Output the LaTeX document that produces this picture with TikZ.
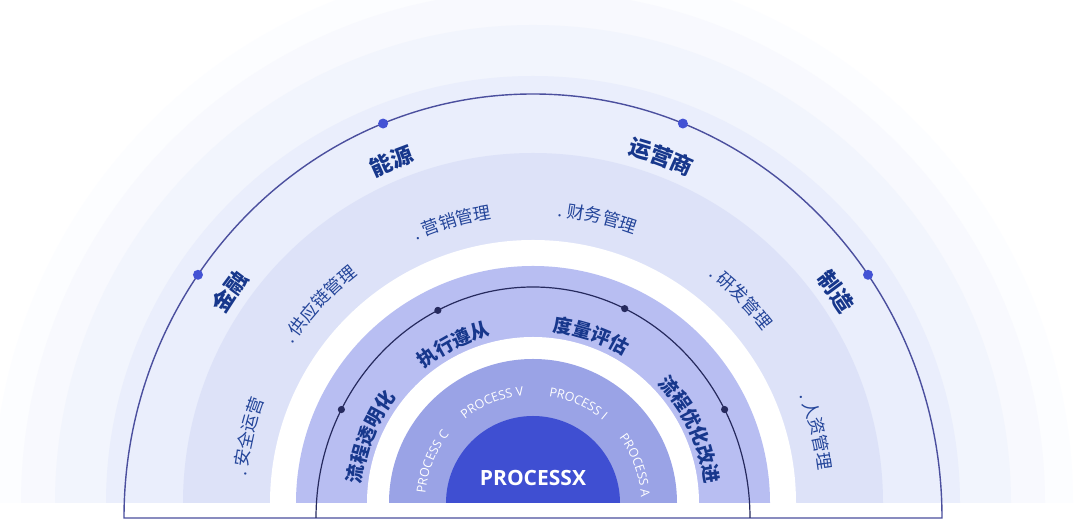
\documentclass[tikz,border=0pt]{standalone}
\usepackage{fontspec}
\setmainfont{Noto Sans CJK SC}
\newfontfamily\latinfont{Open Sans}
\usetikzlibrary{decorations.text}
\definecolor{glowA}{HTML}{FCFDFF}
\definecolor{glowB}{HTML}{F8F9FE}
\definecolor{glowC}{HTML}{F2F5FD}
\definecolor{lightband}{HTML}{EAEEFC}
\definecolor{lavender}{HTML}{DDE2F8}
\definecolor{purpleband}{HTML}{B8BEF2}
\definecolor{midband}{HTML}{9AA3E6}
\definecolor{coreblue}{HTML}{3F4FD2}
\definecolor{navy}{HTML}{17378C}
\definecolor{softnavy}{HTML}{24459A}
\definecolor{outerline}{HTML}{4B4F9E}
\definecolor{innerline}{HTML}{262A5E}
\definecolor{outerdot}{HTML}{4352D4}
\newcommand\halfdisk[2]{\fill[#2] (180:#1pt) arc[start angle=180,end angle=0,radius=#1pt] -- cycle;}
\newcommand\arclab[5]{%
  \path[decorate,decoration={text along path,text align=center,text color=#4,text={|#3|#5}}]
    (#2+60:#1pt) arc[start angle=#2+60,end angle=#2-60,radius=#1pt];}
\begin{document}
\begin{tikzpicture}[x=1pt,y=1pt]
\useasboundingbox (0,0) rectangle (1080,526);
\fill[white] (0,0) rectangle (1080,526);
% bands
\begin{scope}[shift={(533,23)}]
  \halfdisk{540}{glowA}
  \halfdisk{512}{glowB}
  \halfdisk{478}{glowC}
  \halfdisk{427}{lightband}
  \halfdisk{350}{lavender}
  \halfdisk{263}{white}
  \halfdisk{237}{purpleband}
  \halfdisk{166}{white}
  \halfdisk{144}{midband}
  \halfdisk{87}{coreblue}
\end{scope}
% lines
\draw[outerline,line width=1.4pt] (124,8) arc[start angle=180,end angle=0,x radius=409pt,y radius=424pt] -- cycle;
\draw[innerline,line width=1.2pt] (316,8) arc[start angle=180,end angle=0,x radius=217pt,y radius=231pt];
\begin{scope}[shift={(533,8)}]
  \foreach \t/\n in {145/oa,111.5/ob,68.5/oc,35/od}
    \fill[outerdot] (\t:409pt and 424pt) circle[radius=5pt] coordinate (\n);
  \foreach \t/\n in {152/ia,116/ib,65/ic,28/id}
    \fill[innerline] (\t:217pt and 231pt) circle[radius=3.6pt] coordinate (\n);
\end{scope}
% labels
\begin{scope}[shift={(533,23)}]
  \arclab{361.5}{145.1}{\fontsize{22}{22}\selectfont\bfseries}{navy}{金融}
  \arclab{361.5}{112.5}{\fontsize{22}{22}\selectfont\bfseries}{navy}{能源}
  \arclab{361.5}{69.7}{\fontsize{22}{22}\selectfont\bfseries}{navy}{运营商}
  \arclab{361.5}{34.9}{\fontsize{22}{22}\selectfont\bfseries}{navy}{制造}
  \arclab{287.5}{166.9}{\fontsize{17.5}{17.5}\selectfont}{softnavy}{. 安全运营}
  \arclab{287.5}{137}{\fontsize{17.5}{17.5}\selectfont}{softnavy}{. 供应链管理}
  \arclab{287.5}{106}{\fontsize{17.5}{17.5}\selectfont}{softnavy}{. 营销管理}
  \arclab{287.5}{77.2}{\fontsize{17.5}{17.5}\selectfont}{softnavy}{. 财务管理}
  \arclab{287.5}{44.6}{\fontsize{17.5}{17.5}\selectfont}{softnavy}{. 研发管理}
  \arclab{287.5}{14.2}{\fontsize{17.5}{17.5}\selectfont}{softnavy}{. 人资管理}
  \arclab{172.8}{158}{\fontsize{19}{19}\selectfont\bfseries}{navy}{流程透明化}
  \arclab{172.8}{116.6}{\fontsize{19}{19}\selectfont\bfseries}{navy}{执行遵从}
  \arclab{172.8}{71}{\fontsize{19}{19}\selectfont\bfseries}{navy}{度量评估}
  \arclab{172.8}{25}{\fontsize{19}{19}\selectfont\bfseries}{navy}{流程优化改进}
  \arclab{108}{157.8}{\latinfont\fontsize{12.5}{12.5}\selectfont}{white}{PROCESS C}
  \arclab{108}{112}{\latinfont\fontsize{12.5}{12.5}\selectfont}{white}{PROCESS V}
  \arclab{108}{65.6}{\latinfont\fontsize{12.5}{12.5}\selectfont}{white}{PROCESS I}
  \arclab{108}{20}{\latinfont\fontsize{12.5}{12.5}\selectfont}{white}{PROCESS A}
\end{scope}
\node[text=white,font=\latinfont\fontsize{21}{21}\selectfont\bfseries] (px) at (533,48) {PROCESSX};
\end{tikzpicture}
\end{document}
